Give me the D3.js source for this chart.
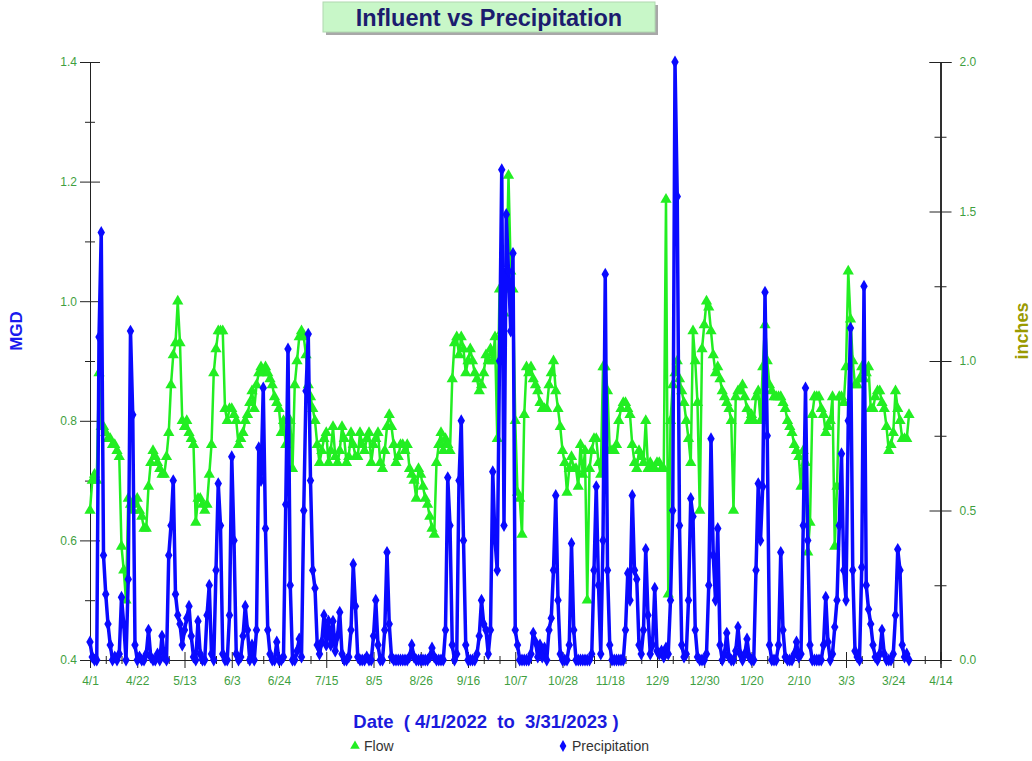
<!DOCTYPE html>
<html>
<head>
<meta charset="utf-8">
<script src="https://cdn.jsdelivr.net/npm/d3@7"></script>
<style>
  body { margin: 0; background: #fff; }
  text { font-family: Arial, "Liberation Sans", sans-serif; }
</style>
</head>
<body>
<script>
// daily values, 4/1/2022 .. 3/31/2023
const startDate = new Date(Date.UTC(2022, 3, 1));
const axisEndDate = new Date(Date.UTC(2023, 3, 14));

// influent flow, MGD
const flow = [
  0.65,0.70,0.71,0.70,0.88,0.79,0.79,0.78,0.77,0.77,
  0.76,0.76,0.75,0.74,0.59,0.55,0.50,0.67,0.66,0.65,
  0.66,0.67,0.65,0.64,0.62,0.62,0.69,0.73,0.75,0.74,
  0.73,0.72,0.71,0.71,0.74,0.78,0.86,0.91,0.93,1.00,
  0.93,0.80,0.79,0.80,0.78,0.77,0.76,0.63,0.67,0.67,
  0.66,0.65,0.66,0.71,0.76,0.88,0.92,0.95,0.95,0.95,
  0.82,0.80,0.82,0.82,0.81,0.80,0.76,0.77,0.78,0.80,
  0.81,0.83,0.85,0.82,0.86,0.88,0.89,0.88,0.89,0.88,
  0.87,0.86,0.84,0.83,0.82,0.78,0.80,0.76,0.78,0.80,
  0.72,0.86,0.90,0.94,0.95,0.94,0.91,0.86,0.84,0.82,
  0.80,0.76,0.73,0.75,0.77,0.78,0.73,0.75,0.79,0.74,
  0.73,0.75,0.79,0.77,0.73,0.74,0.78,0.76,0.74,0.74,
  0.78,0.76,0.75,0.77,0.78,0.73,0.76,0.77,0.78,0.73,
  0.72,0.75,0.79,0.81,0.79,0.76,0.73,0.74,0.76,0.76,
  0.75,0.76,0.72,0.71,0.70,0.67,0.72,0.71,0.69,0.67,
  0.66,0.64,0.62,0.61,0.73,0.76,0.78,0.75,0.77,0.76,
  0.75,0.87,0.93,0.94,0.91,0.94,0.92,0.88,0.90,0.92,
  0.90,0.88,0.87,0.85,0.86,0.88,0.91,0.90,0.92,0.90,
  0.94,0.77,1.02,0.95,0.98,1.02,1.21,1.05,1.02,0.80,
  0.68,0.67,0.61,0.81,0.89,0.88,0.89,0.87,0.86,0.85,
  0.83,0.82,0.82,0.82,0.86,0.88,0.90,0.85,0.82,0.79,
  0.75,0.73,0.68,0.72,0.74,0.72,0.72,0.69,0.76,0.71,
  0.75,0.50,0.72,0.75,0.77,0.77,0.73,0.71,0.89,0.89,
  0.85,0.75,0.75,0.75,0.76,0.80,0.82,0.83,0.83,0.82,
  0.81,0.76,0.73,0.72,0.75,0.74,0.73,0.80,0.72,0.73,
  0.72,0.72,0.73,0.73,0.72,0.72,1.17,0.51,0.80,0.86,
  0.88,0.90,0.87,0.85,0.83,0.80,0.77,0.73,0.95,0.90,
  0.83,0.65,0.92,0.96,1.00,0.99,0.95,0.91,0.88,0.89,
  0.87,0.85,0.84,0.83,0.82,0.80,0.65,0.84,0.85,0.85,
  0.86,0.84,0.82,0.80,0.81,0.80,0.84,0.85,0.80,0.89,
  0.96,0.90,0.86,0.85,0.84,0.84,0.84,0.84,0.83,0.82,
  0.80,0.79,0.78,0.76,0.75,0.74,0.69,0.75,0.73,0.58,
  0.63,0.81,0.84,0.84,0.84,0.82,0.81,0.78,0.79,0.80,
  0.84,0.59,0.69,0.84,0.84,0.83,0.89,1.05,0.97,0.90,
  0.86,0.86,0.87,0.89,0.87,0.88,0.89,0.82,0.82,0.84,
  0.85,0.85,0.83,0.82,0.79,0.75,0.76,0.78,0.85,0.82,
  0.80,0.77,0.77,0.77,0.81
];

// precipitation, inches
const precip = [
  0.06,0.01,0,0,1.08,1.43,0.35,0.22,0.12,0.05,
  0,0.01,0,0.02,0.21,0.12,0,0.27,1.10,0.82,
  0.05,0,0.01,0,0,0.02,0.10,0.01,0,0,
  0.02,0,0.08,0.01,0,0.35,0.45,0.60,0.22,0.15,
  0.12,0.05,0.10,0.14,0.18,0.08,0.01,0,0.13,0.02,
  0,0,0.15,0.25,0.02,0,0.30,0.59,0.45,0.02,
  0,0,0.15,0.68,0.40,0.02,0,0.01,0.08,0.18,
  0.10,0,0.05,0,0.10,0.71,0.60,0.91,0.44,0.10,
  0.02,0,0,0.06,0,0,0.01,0.52,1.04,0.25,
  0,0,0.03,0.07,0.01,0.50,0.90,1.09,0.60,0.30,
  0.24,0.05,0.02,0.06,0.15,0.05,0.13,0.05,0.13,0.03,
  0.08,0.16,0.02,0,0,0.01,0.10,0.32,0.18,0.01,
  0,0,0,0.01,0,0,0.08,0.20,0.05,0,
  0,0.10,0.36,0.12,0.01,0,0,0,0,0,
  0,0,0.01,0.05,0.01,0,0,0,0,0,
  0,0.01,0.04,0.01,0,0,0,0,0.10,0.61,
  0.45,0.05,0,0.02,0.60,0.80,0.40,0.05,0,0,
  0,0,0.02,0.08,0.20,0.12,0.10,0.02,0.10,0.63,
  0.40,0.30,1.00,1.64,0.45,1.49,1.30,1.10,1.36,0.10,
  0.05,0,0,0,0,0,0.02,0.09,0.06,0.01,
  0.05,0.01,0.04,0,0.10,0.14,0.30,0.55,0.20,0.02,
  0,0,0,0.05,0.39,0.10,0,0,0,0,
  0,0,0,0.02,0.30,0.58,0.25,0.02,0.40,1.29,
  0.30,0.05,0,0,0,0,0,0,0.10,0.29,
  0.20,0.55,0.30,0.27,0.05,0.02,0.10,0.37,0.15,0.02,
  0.05,0.24,0.03,0.02,0.03,0.01,0.04,0.02,0.20,0.50,
  2.00,1.55,0.45,0.05,0.01,0.02,0.20,0.54,0.48,0.10,
  0.01,0,0,0,0.02,0.25,0.74,0.35,0.20,0.44,
  0.05,0,0.02,0.09,0.01,0,0,0.03,0.11,0.02,
  0,0.02,0.07,0.01,0,0,0.30,0.59,0.40,0.58,
  1.23,0.75,0.05,0,0,0,0.05,0.36,0.10,0.01,
  0,0,0,0.02,0.06,0.01,0.02,0.45,0.91,0.40,
  0.05,0,0,0,0,0,0.05,0.21,0.06,0,
  0.02,0.11,0.20,0.45,0.69,0.30,0.20,0.80,1.11,0.30,
  0.03,0.01,0,0.31,1.25,0.25,0.17,0.12,0.05,0.01,
  0,0.02,0.10,0.02,0,0,0,0.02,0.15,0.37,
  0.30,0.05,0.01,0.02,0
];

const flowTicks = [0.4, 0.6, 0.8, 1.0, 1.2, 1.4];
const flowMinorTicks = [0.5, 0.7, 0.9, 1.1, 1.3];
const precipTicks = [0, 0.5, 1.0, 1.5, 2.0];
const precipMinorTicks = [0.25, 0.75, 1.25, 1.75];
const dateTicks = d3.range(19).map(i => d3.utcDay.offset(startDate, 21 * i));
const dateMinorTicks = d3.range(55).filter(i => i % 3).map(i => d3.utcDay.offset(startDate, 7 * i));

const dates = flow.map((d, i) => d3.utcDay.offset(startDate, i));

const labelGreen = "#3f9f3f";
const flowColor = "#22ee22";
const precipColor = "#0a0aff";

const svg = d3.select("body").append("svg")
  .attr("width", 1032)
  .attr("height", 761);

const x = d3.scaleUtc().domain([startDate, axisEndDate]).range([90, 940.5]);
const yL = d3.scaleLinear().domain([0.4, 1.4]).range([660, 62]);
const yR = d3.scaleLinear().domain([0, 2]).range([660, 62]);

function styleAxis(g) {
  g.select(".domain").attr("stroke", "#222");
  g.selectAll(".tick line").attr("stroke", "#222");
  g.selectAll(".tick text").attr("fill", labelGreen).attr("font-size", 12)
    .attr("font-family", "Arial, 'Liberation Sans', sans-serif");
}

// left axis (MGD)
const gl = svg.append("g").attr("transform", "translate(90,0)");
gl.append("g").call(d3.axisLeft(yL).tickValues(flowTicks).tickSize(10).tickPadding(3).tickFormat(d3.format(".1f"))).call(styleAxis);
gl.append("g").call(d3.axisRight(yL).tickValues(flowTicks).tickSize(10).tickFormat("")).call(styleAxis);
gl.append("g").call(d3.axisLeft(yL).tickValues(flowMinorTicks).tickSize(5).tickFormat("")).call(styleAxis);
gl.append("g").call(d3.axisRight(yL).tickValues(flowMinorTicks).tickSize(5).tickFormat("")).call(styleAxis);

// right axis (inches)
const gr = svg.append("g").attr("transform", "translate(940.5,0)");
gr.append("g").call(d3.axisRight(yR).tickValues(precipTicks).tickSize(11).tickPadding(8).tickFormat(d3.format(".1f"))).call(styleAxis);
gr.append("g").call(d3.axisLeft(yR).tickValues(precipTicks).tickSize(11).tickFormat("")).call(styleAxis);
gr.append("g").call(d3.axisRight(yR).tickValues(precipMinorTicks).tickSize(6).tickFormat("")).call(styleAxis);
gr.append("g").call(d3.axisLeft(yR).tickValues(precipMinorTicks).tickSize(6).tickFormat("")).call(styleAxis);

// bottom axis (dates)
const gb = svg.append("g").attr("transform", "translate(0,660)");
gb.append("g").call(d3.axisBottom(x).tickValues(dateTicks).tickSize(8).tickPadding(8).tickFormat(d3.utcFormat("%-m/%-d"))).call(styleAxis);
gb.append("g").call(d3.axisTop(x).tickValues(dateTicks).tickSize(8).tickFormat("")).call(styleAxis);
gb.append("g").call(d3.axisBottom(x).tickValues(dateMinorTicks).tickSize(4).tickFormat("")).call(styleAxis);
gb.append("g").call(d3.axisTop(x).tickValues(dateMinorTicks).tickSize(4).tickFormat("")).call(styleAxis);

// flow series
const flowLine = d3.line().x((d, i) => x(dates[i])).y(d => yL(d));
svg.append("path").datum(flow)
  .attr("d", flowLine)
  .attr("fill", "none")
  .attr("stroke", flowColor)
  .attr("stroke-width", 2.5)
  .attr("stroke-linejoin", "round");
svg.append("g").selectAll("path").data(flow).join("path")
  .attr("transform", (d, i) => `translate(${x(dates[i])},${yL(d)})`)
  .attr("d", d3.symbol().type(d3.symbolTriangle).size(55))
  .attr("fill", flowColor);

// precipitation series
const precipLine = d3.line().x((d, i) => x(dates[i])).y(d => yR(d));
svg.append("path").datum(precip)
  .attr("d", precipLine)
  .attr("fill", "none")
  .attr("stroke", precipColor)
  .attr("stroke-width", 3.5)
  .attr("stroke-linejoin", "round");
svg.append("g").selectAll("path").data(precip).join("path")
  .attr("transform", (d, i) => `translate(${x(dates[i])},${yR(d)})`)
  .attr("d", d3.symbol().type(d3.symbolDiamond).size(48))
  .attr("fill", precipColor);

// title box
svg.append("rect").attr("x", 326).attr("y", 5).attr("width", 332).attr("height", 30).attr("fill", "#a8a8a8");
svg.append("rect").attr("x", 323).attr("y", 2).attr("width", 332).attr("height", 30)
  .attr("fill", "#c8f7c8").attr("stroke", "#b0d8b0").attr("stroke-width", 1);
svg.append("text").attr("x", 489).attr("y", 26).attr("text-anchor", "middle")
  .attr("font-size", 23.5).attr("font-weight", "bold").attr("fill", "#1c1c6e")
  .text("Influent vs Precipitation");

// axis titles
svg.append("text").attr("transform", "translate(22,331) rotate(-90)").attr("text-anchor", "middle")
  .attr("font-size", 17).attr("font-weight", "bold").attr("fill", "#1a1aee").text("MGD");
svg.append("text").attr("transform", "translate(1028,331) rotate(-90)").attr("text-anchor", "middle")
  .attr("font-size", 18).attr("font-weight", "bold").attr("fill", "#9a9a00").text("inches");
svg.append("text").attr("x", 486).attr("y", 728).attr("text-anchor", "middle")
  .attr("font-size", 18.5).attr("font-weight", "bold").attr("fill", "#1a1add")
  .style("white-space", "pre")
  .text("Date  ( 4/1/2022  to  3/31/2023 )");

// legend
const legend = [
  { label: "Flow", color: flowColor, type: d3.symbolTriangle, x: 355 },
  { label: "Precipitation", color: precipColor, type: d3.symbolDiamond, x: 563 }
];
const lg = svg.append("g").selectAll("g").data(legend).join("g")
  .attr("transform", d => `translate(${d.x},746)`);
lg.append("path").attr("d", d => d3.symbol().type(d.type).size(40)()).attr("fill", d => d.color);
lg.append("text").attr("x", 9).attr("y", 5).attr("font-size", 14).attr("fill", "#333").text(d => d.label);
</script>
</body>
</html>
